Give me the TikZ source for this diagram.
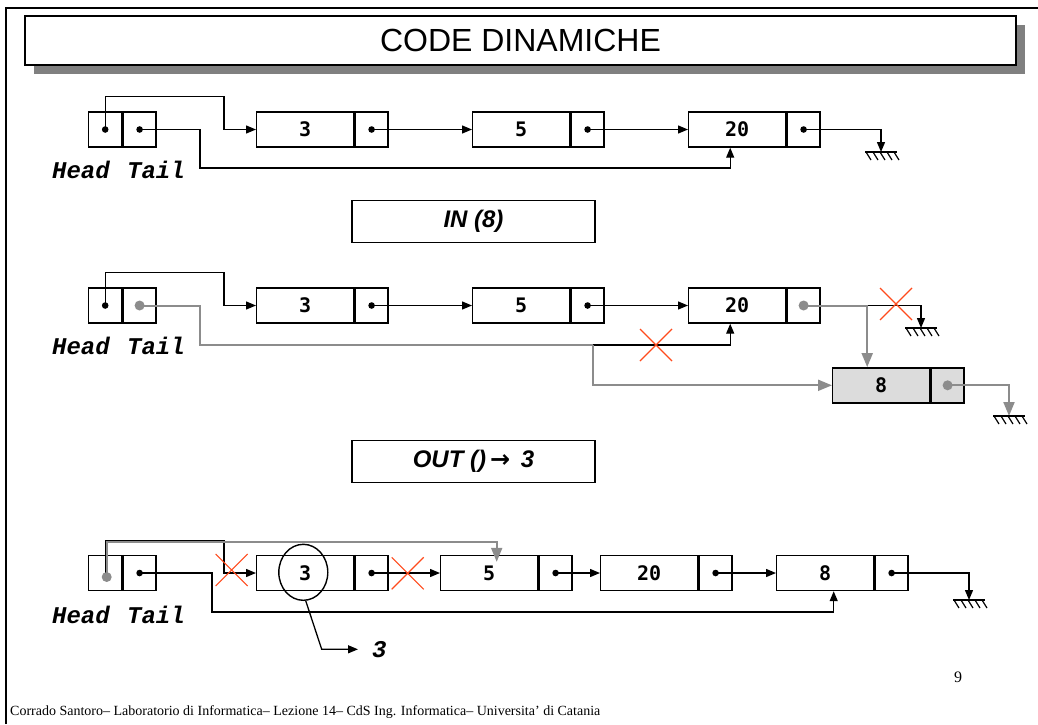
\documentclass[tikz,border=0pt]{standalone}
\usepackage{fontspec}
\setmainfont{Liberation Serif}
\newfontfamily\arialf{Liberation Sans}
\newfontfamily\monof{Liberation Mono}
\newfontfamily\dmono{DejaVu Sans Mono}
\newfontfamily\dvs{DejaVu Sans}
\usetikzlibrary{arrows.meta,shapes.geometric,calc}
\definecolor{shadowc}{HTML}{808080}
\definecolor{gline}{HTML}{8C8C8C}
\definecolor{xcol}{HTML}{FF4A1C}
\definecolor{newfill}{HTML}{DCDCDC}
\newcommand\lcell[5]{%
  \node[cellbox,minimum width=97pt,fill=#5] (#1) at (#2,#3) {#4};
  \node[cellbox,minimum width=33pt,fill=#5] (#1p) at (#1.east) {};
  \draw[line width=3pt] (#1.north east) -- (#1.south east);}
\newcommand\htcell[3]{%
  \node[cellbox,minimum width=33pt] (#1) at (88,#3) {};
  \node[cellbox,minimum width=33pt] (#2) at (#1.east) {};
  \draw[line width=3pt] (#1.north east) -- (#1.south east);}
\begin{document}
\begin{tikzpicture}[x=1pt,y=-1pt,
  cellbox/.style={draw,line width=1.4pt,minimum height=35pt,inner sep=0pt,anchor=west,
    font=\dmono\bfseries\fontsize{20}{22}\selectfont},
  arr/.style={line width=1.3pt,-{Triangle[length=10pt,width=8pt]}},
  garr/.style={gline,line width=2pt,-{Triangle[length=14pt,width=11pt]}},
  gln/.style={gline,line width=2pt},
  lab/.style={font=\monof\bfseries\itshape\fontsize{24}{26}\selectfont,inner sep=0pt},
  opbox/.style={draw,line width=1.4pt,minimum width=243pt,minimum height=42pt,
    font=\arialf\bfseries\itshape\fontsize{24}{28}\selectfont},
  gnd/.pic={\draw[line width=1.4pt] (-16,0) -- (16,0);
    \foreach \i in {-15,-8,-1,6,13} \draw[line width=1.2pt] (\i,0) -- ++(5,8);},
  redx/.pic={\draw[xcol,line width=1.1pt] (-16,-16) -- (16,16) (-16,16) -- (16,-16);}
]
\useasboundingbox (0,0) rectangle (1038,724);
% frame
\draw[line width=1.2pt] (6,724) -- (6,8) -- (1038,8);
% title
\fill[shadowc] (34,25) rectangle (1025,74);
\node[draw,line width=1.4pt,fill=white,minimum width=991pt,minimum height=49pt,
  font=\arialf\fontsize{32}{36}\selectfont] (title) at (520.5,40.5) {CODE DINAMICHE};

% ===== Row 1 =====
\htcell{h1}{t1}{129.5}
\lcell{r1a}{256}{129.5}{3}{white}
\lcell{r1b}{472}{129.5}{5}{white}
\lcell{r1c}{688}{129.5}{20}{white}
\foreach \n in {h1,t1,r1ap,r1bp,r1cp} \fill (\n.center) circle (3.3pt);
\draw[arr] (h1.center) -- ++(0,-33) -| ([xshift=-32pt]r1a.west) -- (r1a.west);
\draw[arr] (t1.center) -- (200,129.5) -- (200,168) -| ([xshift=-7pt]r1c.south);
\draw[arr] (r1ap.center) -- (r1b.west);
\draw[arr] (r1bp.center) -- (r1c.west);
\coordinate (g1) at (881,152);
\draw[arr] (r1cp.center) -| (g1);
\pic at (g1) {gnd};
\node[lab] (hl1) at (81,170) {Head};
\node[lab] (tl1) at (156,170) {Tail};

\node[opbox] (inbox) at (473.5,221.3) {IN (8)};

% ===== Row 2 =====
\htcell{h2}{t2}{305.5}
\lcell{r2a}{256}{305.5}{3}{white}
\lcell{r2b}{472}{305.5}{5}{white}
\lcell{r2c}{688}{305.5}{20}{white}
\lcell{r2d}{832}{385.3}{8}{newfill}
\foreach \n in {h2,r2ap,r2bp} \fill (\n.center) circle (3.3pt);
\draw[arr] (h2.center) -- ++(0,-33) -| ([xshift=-32pt]r2a.west) -- (r2a.west);
\draw[arr] (t2.center) -- (200,305.5) -- (200,345) -| ([xshift=-7pt]r2c.south);
\draw[arr] (r2ap.center) -- (r2b.west);
\draw[arr] (r2bp.center) -- (r2c.west);
\coordinate (g2) at (921,328);
\draw[arr] (r2cp.center) -| (g2);
\pic at (g2) {gnd};
% new links
\draw[gln] (t2.center) -- (200,305.5) -- (200,345) -- (593,345);
\draw[garr] (593,345) |- (r2d.west);
\draw[garr] (r2cp.center) -| ([xshift=-14pt]r2d.north);
\coordinate (g3) at (1009,416);
\draw[garr] (r2dp.center) -| (g3);
\pic at (g3) {gnd};
\foreach \n in {t2,r2cp,r2dp} \fill[gline] (\n.center) circle (5pt);
\pic at (656,345) {redx};
\pic at (896,304) {redx};
\node[lab] (hl2) at (81,346) {Head};
\node[lab] (tl2) at (156,346) {Tail};

\node[opbox] (outbox) at (473.5,461.3) {OUT ()\,{\dvs\bfseries\upshape →}\, 3};

% ===== Row 3 =====
\htcell{h3}{t3}{573}
\lcell{r3a}{256}{573}{3}{white}
\lcell{r3b}{440}{573}{5}{white}
\lcell{r3c}{600}{573}{20}{white}
\lcell{r3d}{776}{573}{8}{white}
\foreach \n in {t3,r3ap,r3bp,r3cp,r3dp} \fill (\n.center) circle (3.3pt);
\draw[arr] (h3.center) -- ++(0,-32) -| ([xshift=-32pt]r3a.west) -- (r3a.west);
\draw[arr] (t3.center) -- (212,573) -- (212,612) -| ([xshift=8.5pt]r3d.south);
\draw[arr] (r3ap.center) -- (r3b.west);
\draw[arr] (r3bp.center) -- (r3c.west);
\draw[arr] (r3cp.center) -- (r3d.west);
\coordinate (g4) at (969,600);
\draw[arr] (r3dp.center) -| (g4);
\pic at (g4) {gnd};
\coordinate (hd3) at ([xshift=1.5pt,yshift=-4pt]h3.center);
\draw[garr] (hd3) -- ++(0,-35) -| ([xshift=7.5pt,yshift=-7pt]r3b.north);
\fill[gline] (hd3) circle (5pt);
\pic at (231.7,570) {redx};
\pic at (407.7,573.3) {redx};
\node[draw,line width=1.4pt,ellipse,minimum width=49pt,minimum height=56pt,inner sep=0pt] (circ) at (303.3,572.3) {};
\node[lab,anchor=west] (out3) at (372,649.3) {3};
\draw[arr] ([xshift=2.5pt]circ.south) -- (321.7,649.3) -- ([xshift=-14pt]out3.west);
\node[lab] (hl3) at (81,615) {Head};
\node[lab] (tl3) at (156,615) {Tail};

% footer
\node[font=\fontsize{16}{18}\selectfont] (pg) at (958,677) {9};
\node[anchor=west,inner sep=0pt,font=\fontsize{14}{16}\selectfont] (foot) at (10,712)
  {Corrado Santoro– Laboratorio di Informatica– Lezione 14– CdS Ing. Informatica– Universita’ di Catania};
\end{tikzpicture}
\end{document}
